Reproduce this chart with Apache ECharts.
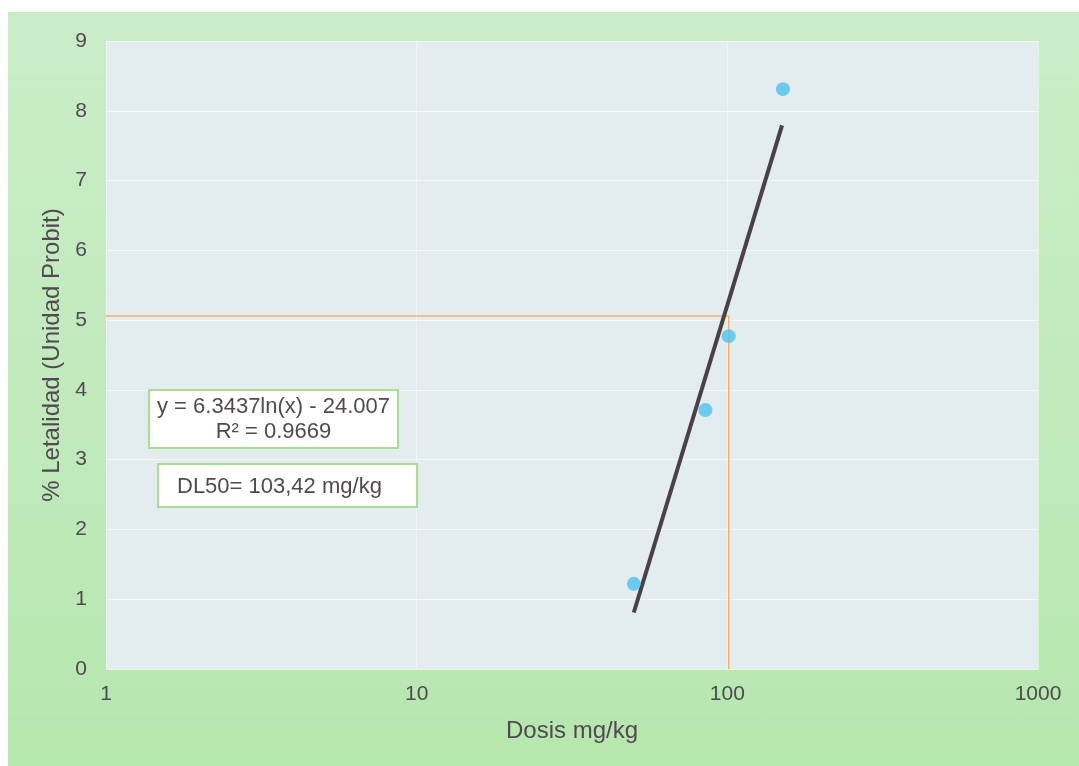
<!DOCTYPE html>
<html>
<head>
<meta charset="utf-8">
<script src="https://cdn.jsdelivr.net/npm/echarts@6/dist/echarts.min.js"></script>
<style>
html,body{margin:0;padding:0;background:#fff;}
#bg{position:absolute;left:8px;top:12px;width:1071px;height:754px;background:linear-gradient(180deg,#caedc7 0%,#c1eabd 50%,#b6e7ae 100%);}
#c{position:absolute;left:0;top:0;width:1079px;height:766px;}
</style>
</head>
<body>
<div id="bg"></div>
<div id="c"></div>
<script>
// Data
const xTickLabels = [1, 10, 100, 1000];
const yTickLabels = [0, 1, 2, 3, 4, 5, 6, 7, 8, 9];
const observed = [[50, 1.22], [85, 3.71], [101, 4.77], [151, 8.31]];
const trendLine = [[50, 0.81], [150, 7.79]];
const dl50Guide = [[1, 5.06], [101, 5.06], [101, 0]];
const equationText = ['y = 6.3437ln(x) - 24.007', 'R² = 0.9669'];
const dl50Text = 'DL50= 103,42 mg/kg';
const xName = 'Dosis mg/kg';
const yName = '% Letalidad (Unidad Probit)';

const textColor = '#514950';
const font = '"Liberation Sans", Arial, sans-serif';
const chart = echarts.init(document.getElementById('c'));
chart.setOption({
  backgroundColor: 'transparent',
  animation: false,
  textStyle: {fontFamily: font},
  grid: {left: 106, top: 41, right: 41, bottom: 97, show: true, backgroundColor: '#e3ecee', borderWidth: 0},
  xAxis: {
    type: 'log', logBase: 10, min: 1, max: 1000,
    name: xName, nameLocation: 'middle', nameGap: 50,
    nameTextStyle: {color: textColor, fontSize: 24, fontFamily: font},
    axisLine: {show: false}, axisTick: {show: false},
    axisLabel: {color: textColor, fontSize: 21, margin: 15, fontFamily: font,
      formatter: v => xTickLabels.includes(Math.round(v)) ? String(Math.round(v)) : ''},
    splitLine: {show: true, lineStyle: {color: 'rgba(255,255,255,0.45)', width: 1}},
    minorSplitLine: {show: false}
  },
  yAxis: {
    type: 'value', min: 0, max: 9, interval: 1,
    name: yName, nameLocation: 'middle', nameGap: 38, nameRotate: 90,
    nameTextStyle: {color: textColor, fontSize: 24, fontFamily: font},
    axisLine: {show: false}, axisTick: {show: false},
    axisLabel: {color: textColor, fontSize: 21, margin: 19, fontFamily: font,
      formatter: v => yTickLabels.includes(v) ? String(v) : ''},
    splitLine: {show: true, lineStyle: {color: 'rgba(255,255,255,0.65)', width: 1}}
  },
  series: [
    {type: 'line', data: dl50Guide, symbol: 'none', silent: true,
     lineStyle: {color: '#f7b067', width: 1.5}, z: 2},
    {type: 'line', data: trendLine, symbol: 'none', silent: true,
     lineStyle: {color: '#4a4146', width: 4}, z: 3},
    {type: 'scatter', data: observed, symbol: 'circle', symbolSize: 14,
     itemStyle: {color: '#4ec2ee'}, z: 4}
  ],
  graphic: [
    {type: 'rect', x: 149, y: 390, z: 10,
     shape: {width: 249, height: 58},
     style: {fill: '#ffffff', stroke: '#a6df92', lineWidth: 2}},
    {type: 'text', x: 273.5, y: 419, z: 11,
     style: {text: equationText.join('\n'), fill: textColor, font: '22px ' + font,
       textAlign: 'center', textVerticalAlign: 'middle', lineHeight: 25}},
    {type: 'rect', x: 158, y: 464, z: 10,
     shape: {width: 259, height: 43},
     style: {fill: '#ffffff', stroke: '#a6df92', lineWidth: 2}},
    {type: 'text', x: 177, y: 487, z: 11,
     style: {text: dl50Text, fill: textColor, font: '22px ' + font,
       textAlign: 'left', textVerticalAlign: 'middle'}}
  ]
});
</script>
</body>
</html>
